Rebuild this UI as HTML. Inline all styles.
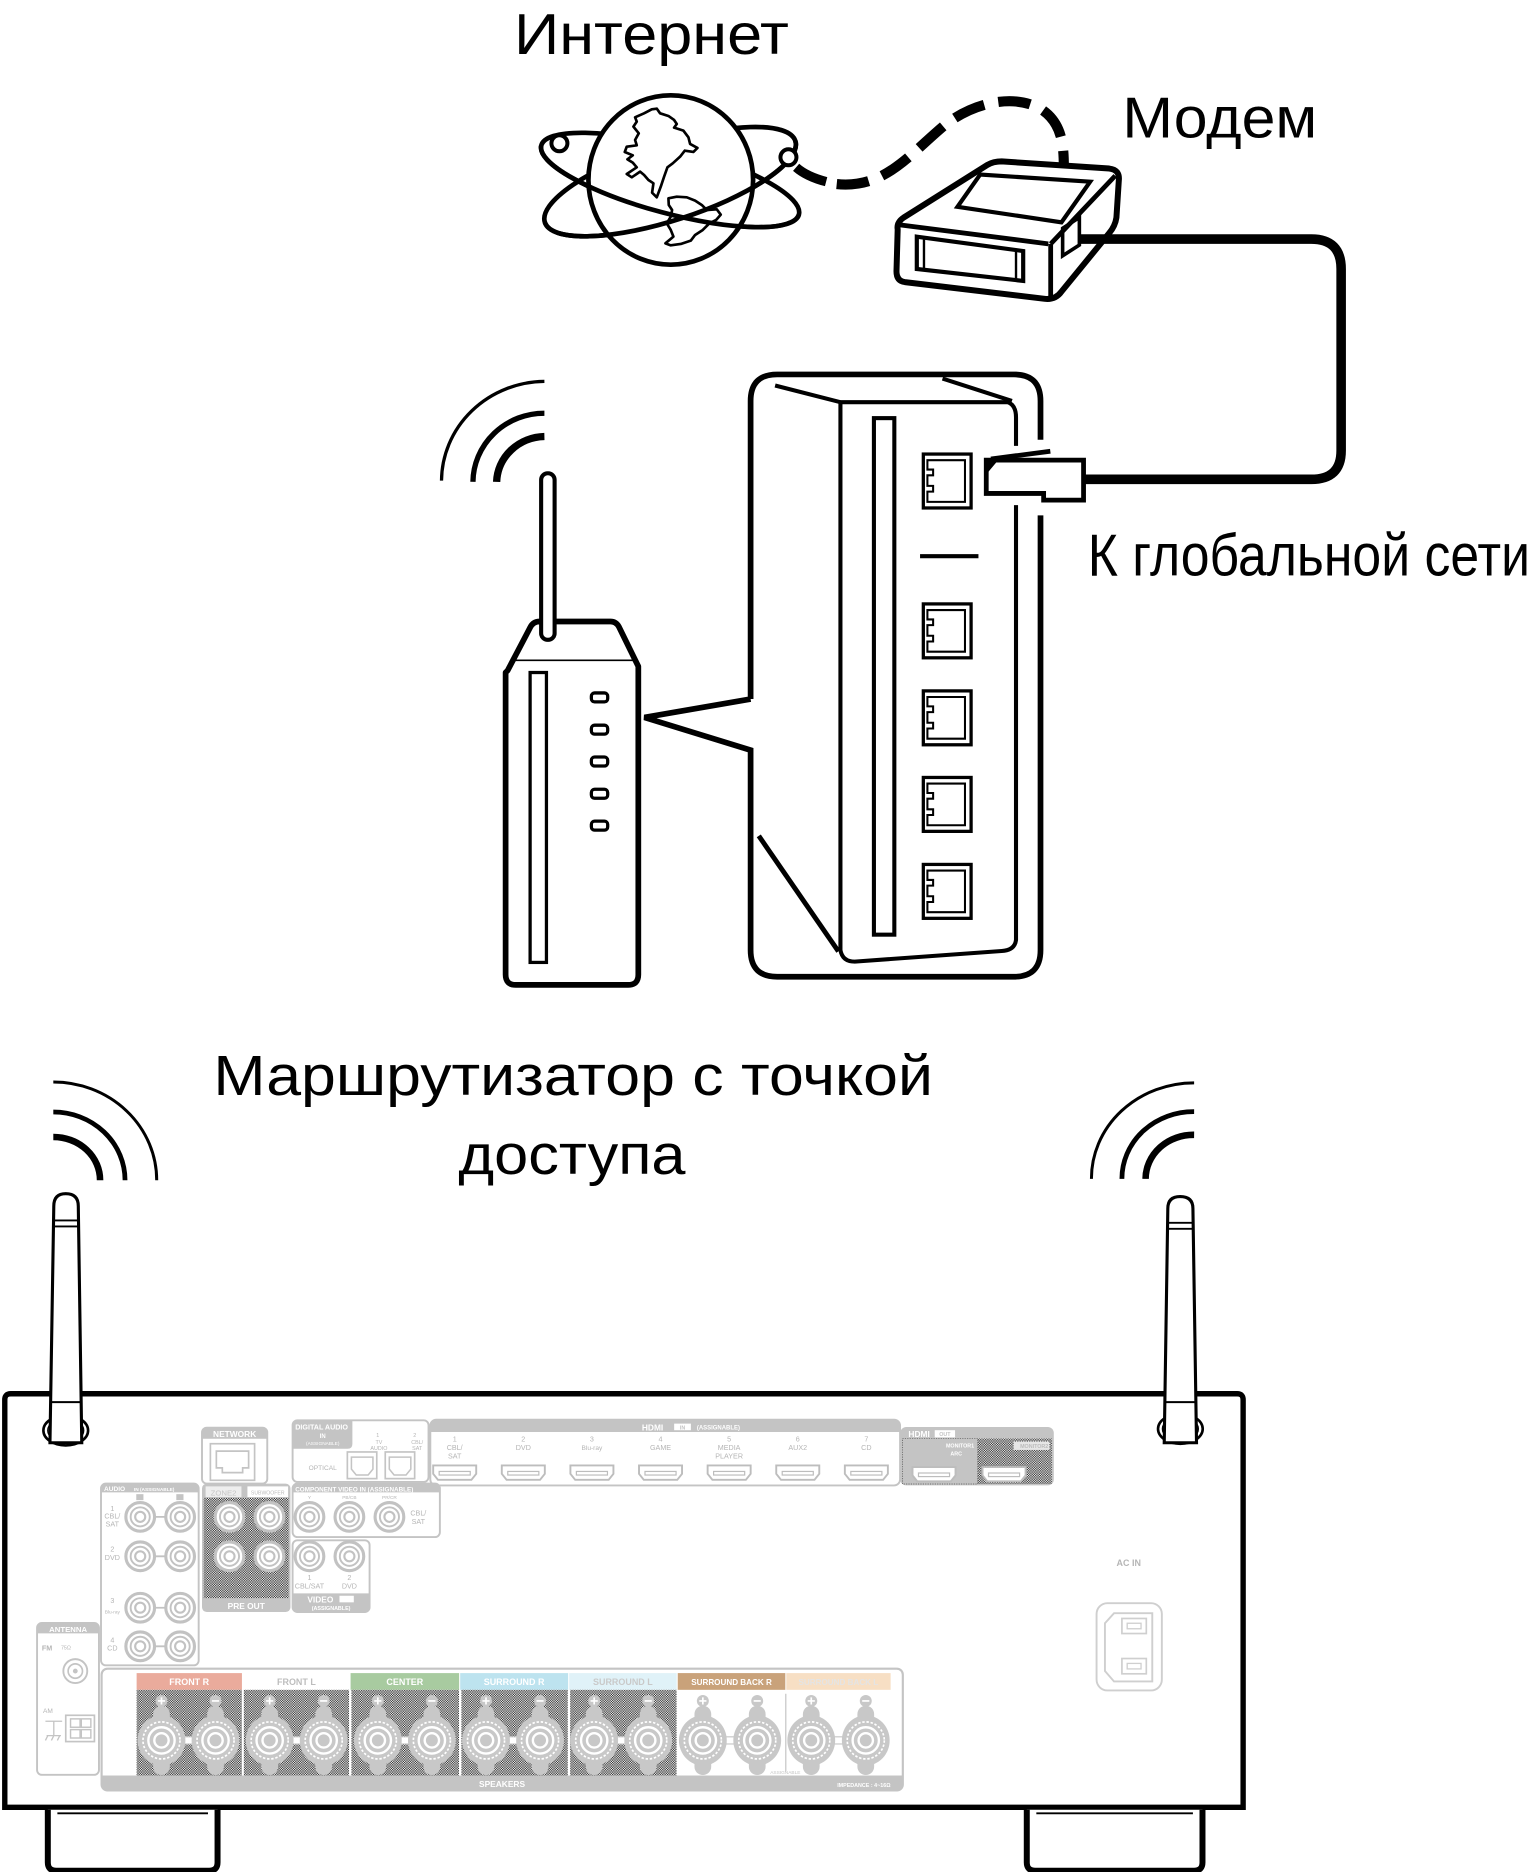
<!DOCTYPE html>
<html><head><meta charset="utf-8">
<style>
html,body{margin:0;padding:0;background:#fff;overflow:hidden}
svg{display:block}
text{font-family:"Liberation Sans",Arial,sans-serif}
</style></head><body>
<svg xmlns="http://www.w3.org/2000/svg" width="1530" height="1872" viewBox="0 0 1280 1566.1" preserveAspectRatio="none">
<defs>
<pattern id="dz" width="2" height="2" patternUnits="userSpaceOnUse"><rect width="2" height="2" fill="#fff"/><rect width="1" height="1" fill="#222"/><rect x="1" y="1" width="1" height="1" fill="#222"/></pattern>
<g id="rca"><circle r="12" fill="#fff" stroke="#c2c2c2" stroke-width="2.6"/><circle r="8" fill="none" stroke="#c2c2c2" stroke-width="1.6"/><circle r="4.2" fill="none" stroke="#c2c2c2" stroke-width="1.8"/></g>
<g id="hd"><path d="M-18,0 H18 V7 L14,12 H-14 L-18,7 Z" fill="#fff" stroke="#bdbdbd" stroke-width="1.6"/><rect x="-13" y="5" width="26" height="3" fill="none" stroke="#bdbdbd" stroke-width="1"/></g>
<g id="post"><rect x="-7" y="-29" width="14" height="58" rx="7" fill="#c8c8c8"/><ellipse rx="20" ry="21" fill="#c8c8c8"/><circle r="15.5" fill="none" stroke="#fff" stroke-width="1.4" stroke-dasharray="2 1.5"/><circle r="11" fill="none" stroke="#fff" stroke-width="2"/><circle r="6" fill="none" stroke="#fff" stroke-width="2"/></g>
<g id="pl"><circle r="5" fill="#c8c8c8"/><path d="M-3,0 H3 M0,-3 V3" stroke="#fff" stroke-width="1.4"/></g>
<g id="mn"><circle r="5" fill="#c8c8c8"/><path d="M-3,0 H3" stroke="#fff" stroke-width="1.4"/></g>
</defs>
<rect width="1280" height="1566.1" fill="#fff"/>

<!-- Labels -->
<text x="430" y="45" font-size="48" textLength="230" lengthAdjust="spacingAndGlyphs">Интернет</text>
<text x="939" y="115" font-size="48" textLength="163" lengthAdjust="spacingAndGlyphs">Модем</text>
<text x="910" y="481.5" font-size="50" textLength="370" lengthAdjust="spacingAndGlyphs">К глобальной сети</text>
<text x="178.5" y="916" font-size="47" textLength="602" lengthAdjust="spacingAndGlyphs">Маршрутизатор с точкой</text>
<text x="383.5" y="982" font-size="47" textLength="190" lengthAdjust="spacingAndGlyphs">доступа</text>

<!-- Globe -->
<g transform="translate(435.1,66.9) scale(0.2789)" fill="none" stroke="#000" stroke-width="14">
<ellipse cx="450" cy="300" rx="400" ry="100" transform="rotate(15 450 300)"/>
<ellipse cx="450" cy="305" rx="395" ry="115" transform="rotate(-18 450 305)"/>
<ellipse cx="452" cy="300" rx="247" ry="254" fill="#fff"/>
<path stroke-width="8" fill="#fff" stroke-linejoin="round" d="M345,112 L372,100 L395,88 L410,86 L420,100 L445,108 L462,120 L470,132 L462,143 L490,152 L505,172 L510,192 L532,204 L520,216 L494,212 L480,230 L458,250 L442,262 L432,290 L422,320 L410,352 L396,338 L400,310 L385,300 L372,285 L360,275 L335,292 L320,282 L350,262 L338,248 L322,238 L338,226 L314,216 L320,200 L350,196 L345,180 L356,160 L340,140 L350,125 Z"/>
<path stroke-width="8" fill="#fff" stroke-linejoin="round" d="M445,355 L470,350 L500,352 L525,362 L545,375 L560,390 L590,388 L602,404 L588,420 L568,430 L548,450 L525,465 L512,482 L482,492 L452,496 L436,490 L460,470 L452,450 L440,430 L452,410 L456,390 L446,375 Z"/>
<path transform="translate(450 300) rotate(15)" d="M -400 0 A 400 100 0 0 0 400 0"/>
<path transform="translate(450 305) rotate(-18)" d="M -395 0 A 395 115 0 0 0 395 0"/>
<circle cx="118" cy="190" r="24" fill="#fff" stroke-width="12"/>
<circle cx="805" cy="232" r="24" fill="#fff" stroke-width="12"/>
<path d="M828,262 Q860,290 918,305" stroke-width="28"/>
</g>

<!-- Dashed link -->
<path d="M700,154 C740,158 760,130 790,105 C815,85 850,78 872,92 C888,103 890,120 890,140" fill="none" stroke="#000" stroke-width="8.5" stroke-dasharray="27 12"/>

<!-- Modem -->
<path d="M751,192 Q750,186 756,182 L826,138 Q831,135 838,135 L928,141 Q937,142 936,151 L934,182 Q933,189 928,195 L888,244 Q883,251 874,250 L757,236 Q750,235 750,227 Z" fill="#fff" stroke="#000" stroke-width="5" stroke-linejoin="round"/>
<path d="M752,188 L877,204 M879,204 L879,249 M879,204 L933,147" fill="none" stroke="#000" stroke-width="4"/>
<path d="M801,173 L820,146 L912,152 L888,186 Z" fill="none" stroke="#000" stroke-width="3.5"/>
<path d="M767,198 L856,210 L856,235 L767,225 Z" fill="none" stroke="#000" stroke-width="3.5"/>
<path d="M773,200 L773,226 M850,209 L850,234" stroke="#000" stroke-width="2"/>
<path d="M889,191 L903,182 L903,205 L889,214 Z" fill="none" stroke="#000" stroke-width="3"/>

<!-- Cable -->
<path d="M903,200 L1097,200 Q1122,200 1122,225 L1122,377 Q1122,401 1097,401 L906,401" fill="none" stroke="#000" stroke-width="8"/>

<!-- Router -->
<g transform="translate(359.8,301.3) scale(0.3416)" fill="none" stroke="#000">
<path d="M28,295 A255,245 0 0 1 280,52" stroke-width="8"/>
<path d="M105,298 A175,170 0 0 1 280,130" stroke-width="13"/>
<path d="M163,298 A120,115 0 0 1 280,187" stroke-width="18"/>
<path d="M190,760 L245,655 Q252,640 268,640 L442,640 Q455,640 462,652 L510,750 L510,1505 Q510,1530 485,1530 L210,1530 Q185,1530 185,1505 L185,765 Z" fill="#fff" stroke-width="14" stroke-linejoin="round"/>
<line x1="200" y1="735" x2="498" y2="735" stroke-width="4"/>
<rect x="272" y="277" width="33" height="408" rx="16" fill="#fff" stroke-width="10"/>
<rect x="245" y="765" width="40" height="710" stroke-width="8"/>
<rect x="395" y="815" width="40" height="22" rx="8" stroke-width="8"/>
<rect x="395" y="894" width="40" height="22" rx="8" stroke-width="8"/>
<rect x="395" y="972" width="40" height="22" rx="8" stroke-width="8"/>
<rect x="395" y="1051" width="40" height="22" rx="8" stroke-width="8"/>
<rect x="395" y="1129" width="40" height="22" rx="8" stroke-width="8"/>
<!-- callout -->
<path d="M785,830 L785,100 Q785,35 850,35 L1430,35 Q1495,35 1495,100 L1495,195 M1495,380 L1495,1445 Q1495,1510 1430,1510 L850,1510 Q785,1510 785,1445 L785,955 L525,875 L785,830" stroke-width="14" stroke-linejoin="miter"/>
<path d="M845,62 L1005,103 M1255,45 L1425,100" stroke-width="10"/>
<path d="M1005,103 L1415,103 Q1435,110 1435,140 L1435,210 M1435,355 L1435,1420 Q1432,1445 1400,1447 L1040,1473 Q1010,1473 1005,1445 L1005,103" stroke-width="10"/>
<path d="M805,1165 L1000,1448" stroke-width="12"/>
<rect x="1087" y="142" width="50" height="1265" stroke-width="10"/>
<line x1="1200" y1="480" x2="1343" y2="480" stroke-width="10"/>
<g stroke-width="8">
<rect x="1208" y="230" width="117" height="132"/>
<rect x="1208" y="597" width="117" height="132"/>
<rect x="1208" y="810" width="117" height="132"/>
<rect x="1208" y="1022" width="117" height="132"/>
<rect x="1208" y="1235" width="117" height="132"/>
</g>
<g stroke-width="5">
<path d="M1218,245 H1310 V347 H1218 V322 H1232 V308 H1218 V282 H1232 V268 H1218 Z"/>
<path transform="translate(0,367)" d="M1218,245 H1310 V347 H1218 V322 H1232 V308 H1218 V282 H1232 V268 H1218 Z"/>
<path transform="translate(0,580)" d="M1218,245 H1310 V347 H1218 V322 H1232 V308 H1218 V282 H1232 V268 H1218 Z"/>
<path transform="translate(0,792)" d="M1218,245 H1310 V347 H1218 V322 H1232 V308 H1218 V282 H1232 V268 H1218 Z"/>
<path transform="translate(0,1005)" d="M1218,245 H1310 V347 H1218 V322 H1232 V308 H1218 V282 H1232 V268 H1218 Z"/>
</g>
</g>

<!-- Plug -->
<path d="M825.1,384.9 L906.5,384.9 L906.5,418.4 L873.1,418.4 L873.1,412.8 L825.1,412.8 Z" fill="#fff" stroke="#000" stroke-width="4"/>
<path d="M829,384 L878.7,377.5" stroke="#000" stroke-width="4"/>
<path d="M825,385 L835,385 L825,397 Z" fill="#000"/>

<!-- Receiver wifi arcs -->
<g fill="none" stroke="#000">
<path d="M44.6,905.2 A86.5,82.2 0 0 1 131.1,987.4" stroke-width="2.5"/>
<path d="M44.6,930.3 A60,57 0 0 1 104.6,987.4" stroke-width="4"/>
<path d="M44.6,951.2 A39,36 0 0 1 83.7,987.4" stroke-width="5.5"/>
<path d="M999,905.9 A86,80 0 0 0 913.1,986.2" stroke-width="2.5"/>
<path d="M999,930 A60,56 0 0 0 938.6,986.2" stroke-width="4"/>
<path d="M999,949.4 A40,37 0 0 0 958.4,986.2" stroke-width="5.5"/>
</g>

<!-- Receiver body -->
<path d="M4,1512 V1171 Q4,1166 9,1166 H1035 Q1040,1166 1040,1171 V1512 Z" fill="#fff" stroke="#000" stroke-width="4.5"/>
<!-- feet -->
<path d="M40,1514 V1558 Q40,1565 47,1565 H175 Q182,1565 182,1558 V1514" fill="#fff" stroke="#000" stroke-width="5"/>
<line x1="48" y1="1517" x2="174" y2="1517" stroke="#000" stroke-width="1.5"/>
<path d="M859,1514 V1558 Q859,1565 866,1565 H999 Q1006,1565 1006,1558 V1514" fill="#fff" stroke="#000" stroke-width="5"/>
<line x1="867" y1="1517" x2="998" y2="1517" stroke="#000" stroke-width="1.5"/>

<!-- Antennas -->
<ellipse cx="55" cy="1196.7" rx="18.7" ry="12.5" fill="#fff" stroke="#000" stroke-width="2.2"/>
<ellipse cx="55" cy="1196.7" rx="15" ry="10" fill="none" stroke="#000" stroke-width="1.2"/>
<path d="M45,1009 Q45,998.6 55,998.6 Q65.5,998.6 65.5,1009 L68.4,1207 L41.8,1207 Z" fill="#fff" stroke="#000" stroke-width="2.6"/>
<path d="M45,1021 H65.5 M45,1026 H65.7 M42.5,1173 H68" stroke="#000" stroke-width="1.6"/>
<ellipse cx="987.5" cy="1195.4" rx="18.7" ry="12.5" fill="#fff" stroke="#000" stroke-width="2.2"/>
<ellipse cx="987.5" cy="1195.4" rx="15" ry="10" fill="none" stroke="#000" stroke-width="1.2"/>
<path d="M977,1011 Q977,1001 987.3,1001 Q998,1001 998,1011 L1001,1207 L974,1207 Z" fill="#fff" stroke="#000" stroke-width="2.6"/>
<path d="M977,1023 H998 M977,1028 H998.2 M974.5,1173 H1000.5" stroke="#000" stroke-width="1.6"/>

<!-- Panel: NETWORK -->
<g font-family="Liberation Sans, Arial, sans-serif">
<rect x="169" y="1194.4" width="54.6" height="46.8" rx="4" fill="#fff" stroke="#c4c4c4" stroke-width="1.6"/>
<path d="M169,1203.6 V1198 q0,-3.6 4,-3.6 h46.6 q4,0 4,3.6 V1203.6 Z" fill="#c4c4c4"/>
<text x="196.3" y="1202.3" font-size="7" fill="#fff" font-weight="bold" text-anchor="middle">NETWORK</text>
<rect x="176" y="1207.8" width="37" height="30.6" fill="none" stroke="#c4c4c4" stroke-width="1.4"/>
<path d="M181,1214 h27 v14 h-5 v4 h-17 v-4 h-5 z" fill="none" stroke="#c4c4c4" stroke-width="1.4"/>

<!-- DIGITAL AUDIO -->
<rect x="244.8" y="1188.2" width="113.7" height="51.6" rx="4" fill="#fff" stroke="#c4c4c4" stroke-width="1.6"/>
<path d="M244.8,1212 V1192 q0,-3.8 4,-3.8 h46 v19.8 q0,4 -4,4 Z" fill="#c4c4c4"/>
<text x="247" y="1196" font-size="6" fill="#fff" font-weight="bold">DIGITAL AUDIO</text>
<text x="270" y="1203" font-size="5" fill="#fff" font-weight="bold" text-anchor="middle">IN</text>
<text x="270" y="1209" font-size="4" fill="#fff" text-anchor="middle">(ASSIGNABLE)</text>
<g font-size="4.5" fill="#b5b5b5" text-anchor="middle">
<text x="316" y="1202">1</text><text x="317" y="1208">TV</text><text x="317" y="1213">AUDIO</text>
<text x="347" y="1202">2</text><text x="349" y="1208">CBL/</text><text x="349" y="1213">SAT</text>
</g>
<text x="270" y="1230" font-size="5.5" fill="#b5b5b5" text-anchor="middle">OPTICAL</text>
<rect x="290.6" y="1214.7" width="24.6" height="22.3" fill="none" stroke="#c4c4c4" stroke-width="1.4"/>
<path d="M294,1219 h18 v10 l-4,5 h-10 l-4,-5 z" fill="none" stroke="#c4c4c4" stroke-width="1.3"/>
<rect x="322.3" y="1214.7" width="24.6" height="22.3" fill="none" stroke="#c4c4c4" stroke-width="1.4"/>
<path d="M325.7,1219 h18 v10 l-4,5 h-10 l-4,-5 z" fill="none" stroke="#c4c4c4" stroke-width="1.3"/>

<!-- HDMI IN -->
<rect x="360" y="1187.7" width="393" height="55" rx="5" fill="#fff" stroke="#c4c4c4" stroke-width="1.6"/>
<path d="M360,1198 V1192.7 q0,-5 5,-5 H748 q5,0 5,5 V1198 Z" fill="#c4c4c4"/>
<text x="537" y="1196.6" font-size="7" fill="#fff" font-weight="bold">HDMI</text>
<rect x="564" y="1191" width="14" height="5.5" fill="#fff"/>
<text x="571" y="1195.8" font-size="4.5" fill="#c4c4c4" font-weight="bold" text-anchor="middle">IN</text>
<text x="583" y="1196" font-size="5" fill="#fff" font-weight="bold">(ASSIGNABLE)</text>
<g font-size="6" fill="#b5b5b5" text-anchor="middle">
<text x="380.4" y="1206">1</text><text x="380.4" y="1213">CBL/</text><text x="380.4" y="1220">SAT</text>
<text x="437.8" y="1206">2</text><text x="437.8" y="1213">DVD</text>
<text x="495.2" y="1206">3</text><text x="495.2" y="1213" font-size="5.5">Blu-ray</text>
<text x="552.6" y="1206">4</text><text x="552.6" y="1213">GAME</text>
<text x="610" y="1206">5</text><text x="610" y="1213">MEDIA</text><text x="610" y="1220">PLAYER</text>
<text x="667.4" y="1206">6</text><text x="667.4" y="1213">AUX2</text>
<text x="724.8" y="1206">7</text><text x="724.8" y="1213">CD</text>
</g>
<use href="#hd" x="380.4" y="1226"/><use href="#hd" x="437.8" y="1226"/><use href="#hd" x="495.2" y="1226"/><use href="#hd" x="552.6" y="1226"/><use href="#hd" x="610" y="1226"/><use href="#hd" x="667.4" y="1226"/><use href="#hd" x="724.8" y="1226"/>

<!-- HDMI OUT -->
<rect x="753.2" y="1193.8" width="128.4" height="48.9" rx="5" fill="#c4c4c4"/>
<rect x="818" y="1203.5" width="62" height="38" fill="url(#dz)"/>
<rect x="755" y="1203.5" width="63" height="38" fill="none" stroke="#555" stroke-width="0.6" stroke-dasharray="1 1"/>
<text x="760" y="1202.3" font-size="7" fill="#fff" font-weight="bold">HDMI</text>
<rect x="782" y="1196.5" width="17" height="6" fill="#fff"/>
<text x="790.5" y="1201.5" font-size="4.5" fill="#c4c4c4" font-weight="bold" text-anchor="middle">OUT</text>
<text x="815" y="1211" font-size="4.5" fill="#fff" font-weight="bold" text-anchor="end">MONITOR1</text>
<text x="800" y="1217.5" font-size="4.5" fill="#fff" font-weight="bold" text-anchor="middle">ARC</text>
<rect x="848" y="1206" width="30" height="7" fill="#e6e6e6"/>
<text x="877" y="1211.6" font-size="4.5" fill="#bbb" font-weight="bold" text-anchor="end">MONITOR2</text>
<use href="#hd" x="781.4" y="1227.3"/><use href="#hd" x="840" y="1227.3"/>

<!-- AUDIO IN -->
<rect x="84.5" y="1241.2" width="81.7" height="152" rx="4" fill="#fff" stroke="#c4c4c4" stroke-width="1.6"/>
<path d="M84.5,1248.5 V1245.2 q0,-4 4,-4 H162.2 q4,0 4,4 V1248.5 Z" fill="#c4c4c4"/>
<text x="87" y="1247.5" font-size="5.5" fill="#fff" font-weight="bold">AUDIO</text>
<text x="112" y="1247.5" font-size="4" fill="#fff" font-weight="bold">IN  (ASSIGNABLE)</text>
<rect x="114" y="1250" width="6" height="5" fill="#c4c4c4"/><rect x="147.5" y="1250" width="6" height="5" fill="#c4c4c4"/>
<line x1="117.3" y1="1269" x2="150.7" y2="1269" stroke="#c2c2c2" stroke-width="1.5"/>
<line x1="117.3" y1="1302" x2="150.7" y2="1302" stroke="#c2c2c2" stroke-width="1.5"/>
<line x1="117.3" y1="1345" x2="150.7" y2="1345" stroke="#c2c2c2" stroke-width="1.5"/>
<line x1="117.3" y1="1377.3" x2="150.7" y2="1377.3" stroke="#c2c2c2" stroke-width="1.5"/>
<use href="#rca" x="117.3" y="1269"/><use href="#rca" x="150.7" y="1269"/>
<use href="#rca" x="117.3" y="1302"/><use href="#rca" x="150.7" y="1302"/>
<use href="#rca" x="117.3" y="1345"/><use href="#rca" x="150.7" y="1345"/>
<use href="#rca" x="117.3" y="1377.3"/><use href="#rca" x="150.7" y="1377.3"/>
<g font-size="6" fill="#b5b5b5" text-anchor="middle">
<text x="94" y="1264">1</text><text x="94" y="1270.5">CBL/</text><text x="94" y="1277">SAT</text>
<text x="94" y="1298">2</text><text x="94" y="1305">DVD</text>
<text x="94" y="1341">3</text><text x="94" y="1350" font-size="4">Blu-ray</text>
<text x="94" y="1374">4</text><text x="94" y="1381">CD</text>
</g>

<!-- PRE OUT -->
<rect x="169" y="1241.2" width="74" height="107.4" rx="4" fill="#c4c4c4"/>
<rect x="170.5" y="1253" width="71" height="84" fill="url(#dz)"/>
<rect x="172" y="1243.5" width="30" height="9" fill="#eee"/>
<text x="187" y="1251" font-size="6.5" fill="#c4c4c4" text-anchor="middle">ZONE2</text>
<rect x="207" y="1243.5" width="34" height="9" fill="#fff"/>
<text x="224" y="1250.5" font-size="4.3" fill="#bbb" text-anchor="middle">SUBWOOFER</text>
<use href="#rca" x="192" y="1269"/><use href="#rca" x="225.4" y="1269"/>
<use href="#rca" x="192" y="1302"/><use href="#rca" x="225.4" y="1302"/>
<text x="206" y="1346" font-size="7" fill="#fff" font-weight="bold" text-anchor="middle">PRE OUT</text>

<!-- COMPONENT VIDEO -->
<rect x="244.8" y="1241.2" width="123.2" height="44.7" rx="4" fill="#fff" stroke="#c4c4c4" stroke-width="1.6"/>
<path d="M244.8,1248.5 V1245.2 q0,-4 4,-4 H364 q4,0 4,4 V1248.5 Z" fill="#c4c4c4"/>
<text x="247" y="1247.6" font-size="5.3" fill="#fff" font-weight="bold">COMPONENT VIDEO  IN  (ASSIGNABLE)</text>
<g font-size="4" fill="#b5b5b5" text-anchor="middle">
<text x="258.9" y="1254">Y</text><text x="292.3" y="1254">PB/CB</text><text x="325.8" y="1254">PR/CR</text>
</g>
<use href="#rca" x="258.9" y="1269"/><use href="#rca" x="292.3" y="1269"/><use href="#rca" x="325.8" y="1269"/>
<text x="350" y="1268" font-size="6" fill="#b5b5b5" text-anchor="middle">CBL/</text>
<text x="350" y="1275" font-size="6" fill="#b5b5b5" text-anchor="middle">SAT</text>

<!-- VIDEO IN -->
<rect x="244.8" y="1288.6" width="64.4" height="60" rx="4" fill="#fff" stroke="#c4c4c4" stroke-width="1.6"/>
<path d="M244.8,1333 H309.2 V1344.6 q0,4 -4,4 H248.8 q-4,0 -4,-4 Z" fill="#c4c4c4"/>
<use href="#rca" x="258.9" y="1302"/><use href="#rca" x="292.3" y="1302"/>
<g font-size="6" fill="#b5b5b5" text-anchor="middle">
<text x="258.9" y="1322">1</text><text x="258.9" y="1329">CBL/SAT</text>
<text x="292.3" y="1322">2</text><text x="292.3" y="1329">DVD</text>
</g>
<text x="268" y="1340.5" font-size="7" fill="#fff" font-weight="bold" text-anchor="middle">VIDEO</text>
<rect x="284" y="1335" width="12" height="5.5" fill="#fff"/>
<text x="277" y="1347" font-size="4.5" fill="#fff" font-weight="bold" text-anchor="middle">(ASSIGNABLE)</text>

<!-- ANTENNA -->
<rect x="31" y="1357.8" width="51.8" height="127" rx="4" fill="#fff" stroke="#c4c4c4" stroke-width="1.6"/>
<path d="M31,1366.5 V1361.8 q0,-4 4,-4 H78.8 q4,0 4,4 V1366.5 Z" fill="#c4c4c4"/>
<text x="57" y="1365.2" font-size="6.5" fill="#fff" font-weight="bold" text-anchor="middle">ANTENNA</text>
<text x="35" y="1381" font-size="6" fill="#b5b5b5" font-weight="bold">FM</text>
<text x="51" y="1380" font-size="4.5" fill="#b5b5b5">75Ω</text>
<circle cx="63" cy="1398" r="10" fill="none" stroke="#c4c4c4" stroke-width="1.6"/>
<circle cx="63" cy="1398" r="6" fill="none" stroke="#c4c4c4" stroke-width="1.4"/>
<circle cx="63" cy="1398" r="2" fill="#c4c4c4"/>
<text x="36" y="1433" font-size="5.5" fill="#b5b5b5">AM</text>
<rect x="55" y="1435" width="24" height="22" fill="none" stroke="#c4c4c4" stroke-width="1.4"/>
<rect x="59" y="1438" width="8" height="7" fill="none" stroke="#c4c4c4" stroke-width="1.2"/>
<rect x="68" y="1438" width="8" height="7" fill="none" stroke="#c4c4c4" stroke-width="1.2"/>
<rect x="59" y="1447" width="8" height="7" fill="none" stroke="#c4c4c4" stroke-width="1.2"/>
<rect x="68" y="1447" width="8" height="7" fill="none" stroke="#c4c4c4" stroke-width="1.2"/>
<path d="M38,1440 H52 M45,1440 V1452 M40,1452 L38,1456 M45,1452 L43,1456 M50,1452 L48,1456 M39,1452 H51" stroke="#c4c4c4" stroke-width="1.1" fill="none"/>

<!-- AC IN -->
<text x="944.3" y="1310" font-size="7.5" fill="#b5b5b5" font-weight="bold" text-anchor="middle">AC IN</text>
<rect x="917.4" y="1341.2" width="54.6" height="73" rx="9" fill="#fff" stroke="#cfcfcf" stroke-width="1.6"/>
<path d="M932,1349.6 H964 V1406.7 H932 L924.4,1398 V1358 Z" fill="none" stroke="#cfcfcf" stroke-width="1.6"/>
<rect x="938.6" y="1354" width="20.4" height="12.6" fill="none" stroke="#cfcfcf" stroke-width="1.4"/>
<rect x="943" y="1358" width="11.6" height="4.6" fill="none" stroke="#cfcfcf" stroke-width="1.1"/>
<rect x="938.6" y="1387.5" width="20.4" height="12.8" fill="none" stroke="#cfcfcf" stroke-width="1.4"/>
<rect x="943" y="1391.6" width="11.6" height="4.6" fill="none" stroke="#cfcfcf" stroke-width="1.1"/>

<!-- SPEAKERS -->
<rect x="85" y="1396" width="670.3" height="101.9" rx="5" fill="#fff" stroke="#c4c4c4" stroke-width="1.8"/>
<path d="M85,1485.4 H755.3 V1493 q0,5 -5,5 H90 q-5,0 -5,-5 Z" fill="#c4c4c4"/>
<text x="420" y="1495.2" font-size="7" fill="#fff" font-weight="bold" text-anchor="middle">SPEAKERS</text>
<text x="745" y="1495" font-size="4.5" fill="#fff" font-weight="bold" text-anchor="end">IMPEDANCE : 4~16Ω</text>
<rect x="114.3" y="1399.7" width="88.1" height="14" fill="#eaab9c"/>
<rect x="293.3" y="1399.7" width="90.8" height="14" fill="#a8cba0"/>
<rect x="385" y="1399.7" width="90.3" height="14" fill="#bde3ef"/>
<rect x="476.2" y="1399.7" width="89.9" height="14" fill="#e0f2f8"/>
<rect x="567" y="1399.7" width="90" height="14" fill="#c9a27a"/>
<rect x="657.8" y="1399.7" width="87.3" height="14" fill="#f7dfc4"/>
<g font-size="7.5" font-weight="bold" text-anchor="middle">
<text x="158.3" y="1409.5" fill="#fff">FRONT R</text>
<text x="248" y="1409.5" fill="#bdbdbd">FRONT L</text>
<text x="338.7" y="1409.5" fill="#fff">CENTER</text>
<text x="430.1" y="1409.5" fill="#fff">SURROUND R</text>
<text x="521.1" y="1409.5" fill="#c9c9c9">SURROUND L</text>
<text x="612" y="1409.5" fill="#fff" font-size="6.8">SURROUND BACK R</text>
<text x="701.4" y="1409.5" fill="#e4e4e4" font-size="6.8">SURROUND BACK L</text>
</g>
<rect x="114.3" y="1413.7" width="88" height="71.7" fill="url(#dz)"/>
<rect x="204" y="1413.7" width="88" height="71.7" fill="url(#dz)"/>
<rect x="294" y="1413.7" width="90" height="71.7" fill="url(#dz)"/>
<rect x="386" y="1413.7" width="89" height="71.7" fill="url(#dz)"/>
<rect x="477" y="1413.7" width="89" height="71.7" fill="url(#dz)"/>
<line x1="657.4" y1="1417" x2="657.4" y2="1482" stroke="#c4c4c4" stroke-width="1"/>
<text x="657" y="1484" font-size="4" fill="#c4c4c4" text-anchor="middle">ASSIGNABLE</text>
<g fill="#fff" stroke="#c8c8c8" stroke-width="1">
<rect x="152" y="1453" width="12" height="6"/><rect x="242" y="1453" width="12" height="6"/><rect x="333" y="1453" width="12" height="6"/><rect x="423" y="1453" width="12" height="6"/><rect x="514" y="1453" width="12" height="6"/><rect x="605" y="1453" width="12" height="6"/><rect x="696" y="1453" width="12" height="6"/>
</g>
<use href="#post" x="135.1" y="1456"/><use href="#post" x="180.3" y="1456"/>
<use href="#post" x="225.6" y="1456"/><use href="#post" x="270.8" y="1456"/>
<use href="#post" x="316.1" y="1456"/><use href="#post" x="361.3" y="1456"/>
<use href="#post" x="406.6" y="1456"/><use href="#post" x="451.8" y="1456"/>
<use href="#post" x="497.1" y="1456"/><use href="#post" x="542.3" y="1456"/>
<use href="#post" x="588" y="1456"/><use href="#post" x="633.5" y="1456"/>
<use href="#post" x="678.7" y="1456"/><use href="#post" x="724.3" y="1456"/>
<use href="#pl" x="135.1" y="1423"/><use href="#mn" x="180.3" y="1423"/>
<use href="#pl" x="225.6" y="1423"/><use href="#mn" x="270.8" y="1423"/>
<use href="#pl" x="316.1" y="1423"/><use href="#mn" x="361.3" y="1423"/>
<use href="#pl" x="406.6" y="1423"/><use href="#mn" x="451.8" y="1423"/>
<use href="#pl" x="497.1" y="1423"/><use href="#mn" x="542.3" y="1423"/>
<use href="#pl" x="588" y="1423"/><use href="#mn" x="633.5" y="1423"/>
<use href="#pl" x="678.7" y="1423"/><use href="#mn" x="724.3" y="1423"/>
</g>
</svg>
</body></html>
